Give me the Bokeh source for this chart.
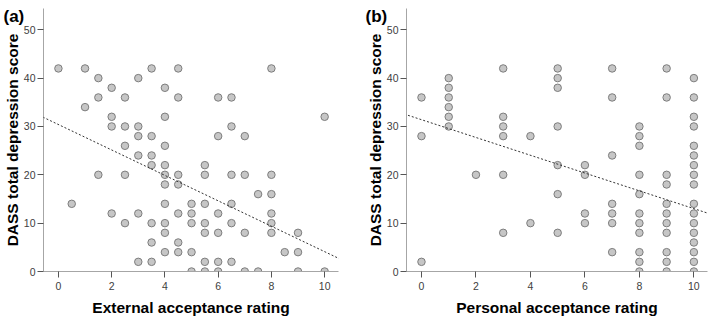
from bokeh.plotting import figure
from bokeh.layouts import row
from bokeh.models import FixedTicker, Slope, Range1d
from bokeh.embed import file_html
from bokeh.resources import INLINE

# ---- data: panel (a) External acceptance rating vs DASS depression
ext_x = [0, 0.5, 1, 1, 1.5, 1.5, 1.5,
         2, 2, 2, 2, 2.5, 2.5, 2.5, 2.5, 2.5,
         3, 3, 3, 3, 3, 3,
         3.5, 3.5, 3.5, 3.5, 3.5, 3.5, 3.5,
         4, 4, 4, 4, 4, 4, 4, 4, 4, 4,
         4.5, 4.5, 4.5, 4.5, 4.5, 4.5, 4.5,
         5, 5, 5, 5, 5,
         5.5, 5.5, 5.5, 5.5, 5.5, 5.5, 5.5,
         6, 6, 6, 6, 6, 6,
         6.5, 6.5, 6.5, 6.5, 6.5, 6.5,
         7, 7, 7, 7, 7.5, 7.5,
         8, 8, 8, 8, 8, 8, 8.5, 9, 9, 9, 10, 10]
ext_y = [42, 14, 42, 34, 40, 36, 20,
         38, 32, 30, 12, 36, 30, 26, 20, 10,
         40, 30, 28, 24, 12, 2,
         42, 28, 24, 22, 10, 6, 2,
         38, 32, 26, 22, 20, 18, 14, 10, 8, 4,
         42, 36, 20, 18, 12, 6, 4,
         14, 12, 10, 4, 0,
         22, 20, 14, 10, 8, 2, 0,
         36, 28, 12, 8, 2, 0,
         36, 30, 20, 14, 10, 2,
         28, 20, 8, 0, 16, 0,
         42, 20, 16, 12, 10, 8, 4, 8, 4, 0, 32, 0]

# ---- data: panel (b) Personal acceptance rating vs DASS depression
per_x = [0, 0, 0,
         1, 1, 1, 1, 1, 1,
         2,
         3, 3, 3, 3, 3, 3,
         4, 4,
         5, 5, 5, 5, 5, 5, 5,
         6, 6, 6, 6,
         7, 7, 7, 7, 7, 7, 7,
         8, 8, 8, 8, 8, 8, 8, 8, 8, 8, 8,
         9, 9, 9, 9, 9, 9, 9, 9, 9, 9, 9,
         10, 10, 10, 10, 10, 10, 10, 10, 10, 10, 10, 10, 10, 10, 10, 10, 10]
per_y = [36, 28, 2,
         40, 38, 36, 34, 32, 30,
         20,
         42, 32, 30, 28, 20, 8,
         28, 10,
         42, 40, 38, 30, 22, 16, 8,
         22, 20, 12, 10,
         42, 36, 24, 14, 12, 10, 4,
         30, 28, 26, 20, 16, 12, 10, 8, 4, 2, 0,
         42, 36, 20, 18, 14, 12, 10, 8, 4, 2, 0,
         40, 36, 32, 30, 26, 24, 22, 20, 18, 14, 12, 10, 8, 6, 4, 2, 0]

# fitted linear trend lines
ext_fit = {"intercept": 30.4, "slope": -2.63}
per_fit = {"intercept": 31.4, "slope": -1.84}

x_ticks = [0, 2, 4, 6, 8, 10]
y_ticks = [0, 10, 20, 30, 40, 50]
y_title = "DASS total depression score"

FONT = "Liberation Sans"
H = 318


def make_panel(xs, ys, fit, xlabel, tag, width, border_left, border_right, xr,
               tag_offset):
    p = figure(width=width, height=H, output_backend="svg", toolbar_location=None,
               x_range=Range1d(*xr), y_range=Range1d(0, 54.4),
               min_border_left=border_left, min_border_right=border_right,
               min_border_top=8, min_border_bottom=45)
    p.outline_line_color = None
    p.grid.visible = False
    p.background_fill_color = "white"
    p.border_fill_color = "white"

    p.title.text = tag
    p.title.align = "left"
    p.title.offset = tag_offset
    p.title.standoff = -34
    p.title.text_font = FONT
    p.title.text_font_size = "17px"
    p.title.text_font_style = "bold"
    p.title.text_color = "black"

    for ax in (p.xaxis[0], p.yaxis[0]):
        ax.axis_line_color = "#a6a6a6"
        ax.major_tick_line_color = "#555555"
        ax.minor_tick_line_color = None
        ax.major_tick_in = 0
        ax.major_tick_out = 6
        ax.major_label_text_font = FONT
        ax.major_label_text_font_size = "10.5px"
        ax.major_label_text_color = "#404040"
        ax.axis_label_text_font = FONT
        ax.axis_label_text_font_size = "15.5px"
        ax.axis_label_text_font_style = "bold"
        ax.axis_label_text_color = "black"

    p.xaxis.ticker = FixedTicker(ticks=x_ticks)
    p.yaxis.ticker = FixedTicker(ticks=y_ticks)
    p.xaxis.axis_label = xlabel
    p.yaxis.axis_label = y_title
    p.xaxis.major_label_standoff = 4
    p.yaxis.major_label_standoff = 2
    p.xaxis.axis_label_standoff = 6
    p.yaxis.axis_label_standoff = 0

    p.scatter(xs, ys, size=7.5, marker="circle", fill_color="#c6c6c6",
              line_color="#7d7d7d", line_width=1)

    p.add_layout(Slope(gradient=fit["slope"], y_intercept=fit["intercept"],
                       line_color="#333333", line_width=1, line_dash="2 2"))
    return p


p1 = make_panel(ext_x, ext_y, ext_fit, "External acceptance rating", "(a)",
                354, 40, 16, (-0.56, 10.52), -40)
p2 = make_panel(per_x, per_y, per_fit, "Personal acceptance rating", "(b)",
                355, 52, 2, (-0.55, 10.5), -41)

layout = row(p1, p2)
open("out.html", "w").write(file_html(layout, INLINE))
